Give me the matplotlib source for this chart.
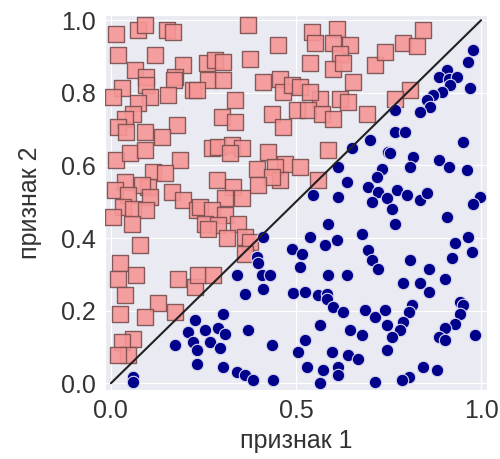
import numpy as np
import matplotlib
matplotlib.use("Agg")
import matplotlib.pyplot as plt
import seaborn as sns

# class 1: points above the diagonal (feature 2 > feature 1)
sq_x = [0.015, 0.074, 0.092, 0.151, 0.168, 0.020, 0.119, 0.195, 0.065, 0.096,
        0.173, 0.170, 0.029, 0.006, 0.096, 0.105, 0.155, 0.222, 0.074, 0.060,
        0.038, 0.020, 0.042, 0.092, 0.178, 0.137,
        0.371, 0.452, 0.259, 0.281, 0.304, 0.376, 0.263, 0.304, 0.232, 0.412,
        0.457, 0.466, 0.488, 0.335, 0.299, 0.335, 0.434, 0.466,
        0.542, 0.610, 0.551, 0.601, 0.646, 0.619, 0.538, 0.601, 0.628, 0.714,
        0.741, 0.655, 0.511, 0.565, 0.538, 0.619, 0.641, 0.502, 0.533, 0.569,
        0.601, 0.691,
        0.790, 0.826, 0.844, 0.808, 0.768,
        0.015, 0.051, 0.092, 0.186, 0.114, 0.146, 0.038, 0.011, 0.101, 0.083,
        0.047, 0.105, 0.164, 0.195, 0.232, 0.033, 0.060, 0.096, 0.006, 0.056,
        0.078, 0.024,
        0.272, 0.289, 0.326, 0.353, 0.322, 0.425, 0.470, 0.394, 0.443, 0.457,
        0.434, 0.286, 0.331, 0.398, 0.308, 0.353, 0.241, 0.272, 0.308, 0.254,
        0.290, 0.344, 0.263, 0.313, 0.362, 0.376, 0.362,
        0.587, 0.511, 0.560,
        0.020, 0.069, 0.038, 0.182, 0.227, 0.128, 0.024, 0.092, 0.173, 0.060,
        0.029, 0.047, 0.020, 0.236, 0.276]
sq_y = [0.963, 0.972, 0.986, 0.972, 0.968, 0.904, 0.904, 0.876, 0.862, 0.844,
        0.844, 0.835, 0.812, 0.789, 0.821, 0.789, 0.793, 0.807, 0.771, 0.743,
        0.729, 0.706, 0.692, 0.692, 0.711, 0.679,
        0.986, 0.931, 0.881, 0.890, 0.885, 0.894, 0.835, 0.835, 0.807, 0.830,
        0.839, 0.802, 0.821, 0.780, 0.734, 0.720, 0.743, 0.706,
        0.968, 0.977, 0.936, 0.936, 0.931, 0.908, 0.881, 0.867, 0.881, 0.876,
        0.913, 0.830, 0.816, 0.784, 0.802, 0.784, 0.775, 0.752, 0.752, 0.743,
        0.729, 0.743,
        0.936, 0.928, 0.972, 0.808, 0.784,
        0.614, 0.633, 0.642, 0.614, 0.582, 0.578, 0.555, 0.532, 0.541, 0.545,
        0.518, 0.513, 0.527, 0.504, 0.477, 0.486, 0.481, 0.477, 0.458, 0.440,
        0.380, 0.330,
        0.647, 0.651, 0.656, 0.647, 0.633, 0.637, 0.605, 0.591, 0.596, 0.559,
        0.568, 0.559, 0.541, 0.545, 0.509, 0.509, 0.486, 0.477, 0.463, 0.440,
        0.435, 0.440, 0.426, 0.399, 0.403, 0.389, 0.357,
        0.642, 0.596, 0.559,
        0.288, 0.298, 0.242, 0.288, 0.265, 0.220, 0.192, 0.183, 0.196, 0.123,
        0.114, 0.077, 0.077, 0.298, 0.298]

# class 2: points below the diagonal
ci_x = [0.979, 0.966, 0.907, 0.885, 0.912, 0.934, 0.916, 0.894, 0.871, 0.970,
        0.853, 0.862, 0.835, 0.768, 0.768, 0.795,
        0.412, 0.394, 0.488,
        0.700, 0.651, 0.749, 0.614, 0.637, 0.732, 0.718, 0.695, 0.722, 0.705,
        0.547, 0.614, 0.587, 0.678, 0.538, 0.578, 0.610, 0.515, 0.695, 0.705,
        0.952, 0.754, 0.817, 0.885, 0.912, 0.808, 0.961, 0.772, 0.799, 0.835,
        0.853, 0.745, 0.759, 0.997, 0.979, 0.907, 0.768, 0.966, 0.930, 0.975,
        0.921, 0.808,
        0.060, 0.060, 0.173, 0.209, 0.227, 0.222, 0.232, 0.232,
        0.340, 0.407, 0.430, 0.412, 0.362, 0.398, 0.304, 0.254, 0.290, 0.308,
        0.371, 0.268, 0.295, 0.434, 0.304, 0.340, 0.362, 0.385, 0.439, 0.492,
        0.511, 0.587, 0.637, 0.722, 0.524, 0.560, 0.583, 0.583, 0.601, 0.628,
        0.686, 0.714, 0.741, 0.565, 0.646, 0.678, 0.745, 0.524, 0.506, 0.596,
        0.641, 0.668, 0.745, 0.529, 0.574, 0.614, 0.614, 0.565, 0.714,
        0.858, 0.903, 0.790, 0.835, 0.858, 0.813, 0.804, 0.943, 0.952, 0.943,
        0.930, 0.790, 0.781, 0.759, 0.984, 0.903, 0.885, 0.903, 0.844, 0.880,
        0.804, 0.786]
ci_y = [0.919, 0.885, 0.862, 0.844, 0.839, 0.844, 0.821, 0.802, 0.793, 0.812,
        0.780, 0.761, 0.747, 0.752, 0.692, 0.692,
        0.403, 0.348, 0.371,
        0.669, 0.647, 0.637, 0.596, 0.555, 0.591, 0.568, 0.541, 0.527, 0.499,
        0.518, 0.513, 0.440, 0.412, 0.403, 0.380, 0.394, 0.357, 0.366, 0.339,
        0.665, 0.633, 0.623, 0.614, 0.596, 0.596, 0.587, 0.532, 0.518, 0.504,
        0.523, 0.509, 0.481, 0.513, 0.495, 0.458, 0.440, 0.403, 0.385, 0.362,
        0.344, 0.339,
        0.017, 0.004, 0.105, 0.141, 0.174, 0.114, 0.091, 0.054,
        0.298, 0.298, 0.298, 0.261, 0.247, 0.330, 0.192, 0.146, 0.151, 0.137,
        0.146, 0.114, 0.096, 0.105, 0.045, 0.031, 0.022, 0.008, 0.008, 0.248,
        0.320, 0.298, 0.298, 0.316, 0.252, 0.242, 0.247, 0.233, 0.210, 0.196,
        0.201, 0.183, 0.201, 0.160, 0.146, 0.132, 0.160, 0.118, 0.086, 0.086,
        0.077, 0.068, 0.091, 0.045, 0.036, 0.045, 0.022, 0.000, 0.004,
        0.316, 0.288, 0.275, 0.275, 0.252, 0.215, 0.196, 0.224, 0.215, 0.192,
        0.164, 0.169, 0.146, 0.128, 0.132, 0.151, 0.128, 0.118, 0.045, 0.036,
        0.017, 0.008]

x_ticks = [0.0, 0.5, 1.0]
y_ticks = [0.0, 0.2, 0.4, 0.6, 0.8, 1.0]

sns.set_style("darkgrid")
plt.rcParams['font.family'] = ['Liberation Sans', 'DejaVu Sans']

fig = plt.figure(figsize=(5.0, 4.59), dpi=100)
ax = fig.add_axes([0.21, 0.150, 0.764, 0.817])

ax.scatter(sq_x, sq_y, marker='s', s=130, c='#f79696',
           edgecolors='#7a4f4f', linewidths=1.0, alpha=0.9, zorder=3)
ax.scatter(ci_x, ci_y, marker='o', s=80, c='#00008b',
           edgecolors='#d8d8f0', linewidths=0.8, zorder=3)
ax.plot([0, 1], [0, 1], color='#222222', lw=1.5, zorder=4)

ax.set_xlim(-0.016, 1.016)
ax.set_ylim(-0.019, 1.014)
ax.set_xticks(x_ticks)
ax.set_yticks(y_ticks)
ax.tick_params(labelsize=18, colors='#333333', pad=3)
ax.set_xlabel('признак 1', fontsize=18, color='#333333', labelpad=4)
ax.set_ylabel('признак 2', fontsize=18, color='#333333', labelpad=14)

fig.savefig('out.png', dpi=100)
